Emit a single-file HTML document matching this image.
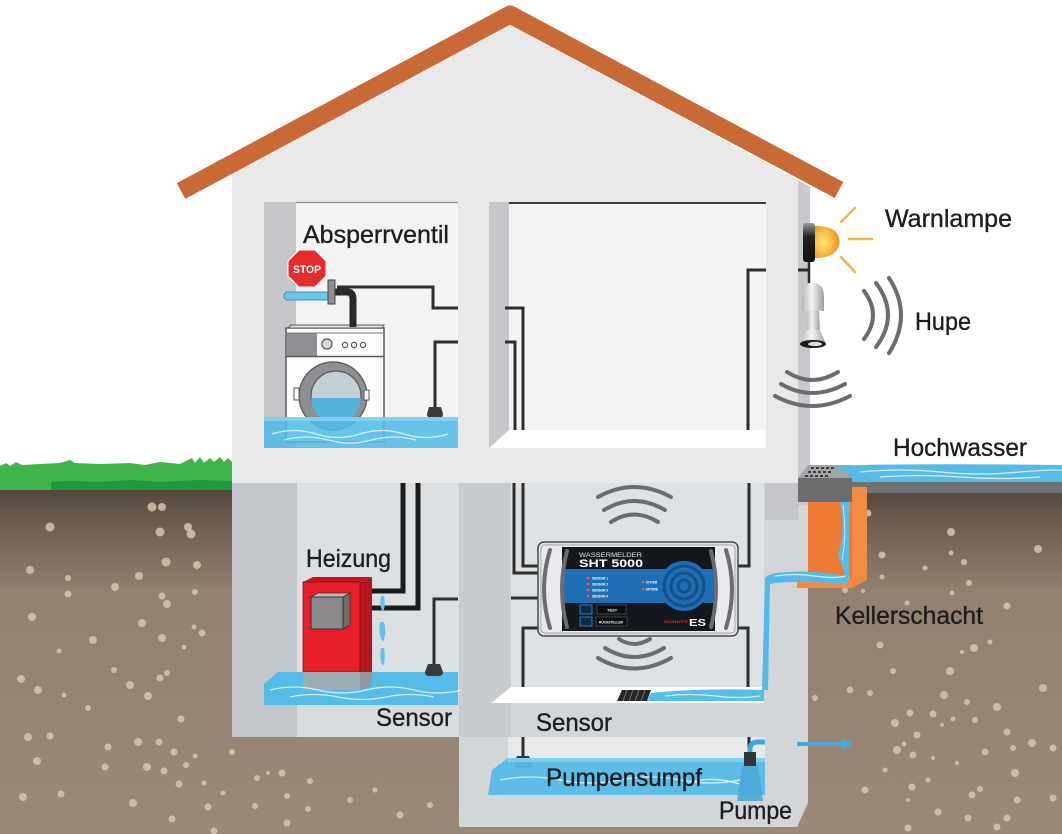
<!DOCTYPE html>
<html><head><meta charset="utf-8">
<style>
html,body{margin:0;padding:0;background:#fff;}
svg{display:block;}
text{font-family:"Liberation Sans",sans-serif;}
.lbl{font-size:25px;fill:#1d1d1d;stroke:#1d1d1d;stroke-width:0.35;}
.w{fill:none;stroke:#2e2e2e;stroke-width:3;}
.arc{fill:none;stroke:#6a6c70;stroke-width:4;stroke-linecap:round;}
.wave{fill:none;stroke:#ffffff;stroke-opacity:0.75;stroke-width:1.3;}
</style></head><body>
<svg width="1062" height="834" viewBox="0 0 1062 834" xmlns="http://www.w3.org/2000/svg">
<defs>
<linearGradient id="soil" x1="0" y1="488" x2="0" y2="834" gradientUnits="userSpaceOnUse">
<stop offset="0" stop-color="#53453b"/>
<stop offset="0.12" stop-color="#716154"/>
<stop offset="0.3" stop-color="#928171"/>
<stop offset="1" stop-color="#9a8979"/>
</linearGradient>
<radialGradient id="lamp" cx="0.35" cy="0.5" r="0.7">
<stop offset="0" stop-color="#ffe680"/>
<stop offset="0.6" stop-color="#f7b23a"/>
<stop offset="1" stop-color="#e9861c"/>
</radialGradient>
<linearGradient id="horn" x1="0" y1="0" x2="1" y2="0">
<stop offset="0" stop-color="#b9b9b9"/>
<stop offset="0.45" stop-color="#f4f4f4"/>
<stop offset="1" stop-color="#9d9d9d"/>
</linearGradient>
<linearGradient id="lampbase" x1="0" y1="0" x2="0" y2="1">
<stop offset="0" stop-color="#9a9a9a"/>
<stop offset="0.35" stop-color="#222"/>
<stop offset="1" stop-color="#111"/>
</linearGradient>
</defs>

<!-- soil -->
<rect x="0" y="488" width="1062" height="346" fill="url(#soil)"/>
<g fill="#d6c6ae" fill-opacity="0.85">
<circle cx="50" cy="527" r="4.5"/><circle cx="152" cy="507" r="4.5"/><circle cx="162" cy="507" r="4"/><circle cx="160" cy="532" r="4.5"/><circle cx="188" cy="527" r="4"/><circle cx="191" cy="534" r="4.5"/><circle cx="30" cy="570" r="4"/><circle cx="166" cy="562" r="4.5"/><circle cx="197" cy="565" r="4"/><circle cx="68" cy="578" r="3"/><circle cx="115" cy="587" r="4"/><circle cx="139" cy="576" r="4"/><circle cx="68" cy="594" r="3.5"/><circle cx="162" cy="596" r="3.5"/><circle cx="167" cy="604" r="4"/><circle cx="195" cy="592" r="3"/><circle cx="32" cy="617" r="4"/><circle cx="142" cy="623" r="4"/><circle cx="93" cy="640" r="4"/><circle cx="162" cy="638" r="4"/><circle cx="202" cy="633" r="3.5"/><circle cx="194" cy="627" r="2.5"/><circle cx="59" cy="651" r="2.5"/><circle cx="184" cy="647" r="2.5"/><circle cx="21" cy="679" r="4"/><circle cx="114" cy="670" r="3"/><circle cx="167" cy="673" r="3"/><circle cx="160" cy="678" r="3.5"/><circle cx="130" cy="685" r="4"/><circle cx="38" cy="690" r="4"/><circle cx="148" cy="696" r="4"/><circle cx="64" cy="695" r="2.5"/><circle cx="88" cy="708" r="3"/><circle cx="181" cy="719" r="3.5"/><circle cx="28" cy="737" r="4"/><circle cx="50" cy="736" r="3.5"/><circle cx="138" cy="742" r="4"/><circle cx="159" cy="742" r="3.5"/><circle cx="108" cy="747" r="3.5"/><circle cx="174" cy="752" r="3.5"/><circle cx="195" cy="756" r="2.5"/><circle cx="232" cy="752" r="3"/><circle cx="37" cy="761" r="4"/><circle cx="105" cy="767" r="3.5"/><circle cx="147" cy="767" r="4"/><circle cx="164" cy="771" r="3.5"/><circle cx="186" cy="765" r="3"/><circle cx="179" cy="784" r="3.5"/><circle cx="204" cy="783" r="2.5"/><circle cx="223" cy="793" r="2.5"/><circle cx="257" cy="778" r="3"/><circle cx="268" cy="773" r="2"/><circle cx="282" cy="773" r="3.5"/><circle cx="310" cy="781" r="3"/><circle cx="287" cy="796" r="3"/><circle cx="23" cy="797" r="4"/><circle cx="61" cy="794" r="3.5"/><circle cx="133" cy="803" r="4"/><circle cx="208" cy="807" r="3.5"/><circle cx="255" cy="806" r="3"/><circle cx="308" cy="809" r="3"/><circle cx="172" cy="819" r="3.5"/><circle cx="287" cy="823" r="3.5"/><circle cx="214" cy="831" r="3.5"/><circle cx="350" cy="800" r="3"/><circle cx="400" cy="815" r="3.5"/><circle cx="375" cy="790" r="2.5"/><circle cx="430" cy="805" r="3"/>
<circle cx="868" cy="513" r="3.5"/><circle cx="951" cy="532" r="4"/><circle cx="1038" cy="549" r="4"/><circle cx="882" cy="555" r="3.5"/><circle cx="951" cy="553" r="2.5"/><circle cx="964" cy="562" r="3"/><circle cx="925" cy="568" r="2.5"/><circle cx="882" cy="577" r="2.5"/><circle cx="969" cy="583" r="3"/><circle cx="952" cy="593" r="2.5"/><circle cx="1007" cy="606" r="3.5"/><circle cx="907" cy="603" r="2.5"/><circle cx="845" cy="590" r="3"/><circle cx="863" cy="591" r="2"/><circle cx="990" cy="642" r="2.5"/><circle cx="962" cy="652" r="2"/><circle cx="974" cy="648" r="4"/><circle cx="880" cy="645" r="3.5"/><circle cx="893" cy="671" r="3"/><circle cx="950" cy="671" r="4"/><circle cx="1043" cy="688" r="4"/><circle cx="850" cy="690" r="3.5"/><circle cx="870" cy="693" r="3"/><circle cx="944" cy="695" r="4"/><circle cx="815" cy="698" r="3"/><circle cx="997" cy="707" r="4"/><circle cx="967" cy="702" r="3"/><circle cx="910" cy="713" r="3.5"/><circle cx="933" cy="714" r="3.5"/><circle cx="895" cy="723" r="4"/><circle cx="953" cy="719" r="2.5"/><circle cx="975" cy="720" r="3"/><circle cx="942" cy="725" r="2"/><circle cx="917" cy="735" r="3.5"/><circle cx="1007" cy="732" r="3.5"/><circle cx="1032" cy="743" r="4"/><circle cx="1053" cy="748" r="3.5"/><circle cx="1013" cy="748" r="3"/><circle cx="897" cy="750" r="4"/><circle cx="913" cy="755" r="3.5"/><circle cx="985" cy="752" r="3.5"/><circle cx="904" cy="744" r="2.5"/><circle cx="933" cy="758" r="2"/><circle cx="957" cy="763" r="2"/><circle cx="1015" cy="773" r="4"/><circle cx="885" cy="770" r="2.5"/><circle cx="865" cy="790" r="3.5"/><circle cx="912" cy="787" r="3.5"/><circle cx="928" cy="780" r="2.5"/><circle cx="980" cy="789" r="3"/><circle cx="972" cy="795" r="3.5"/><circle cx="1017" cy="800" r="3.5"/><circle cx="1053" cy="798" r="3.5"/><circle cx="908" cy="800" r="2"/><circle cx="938" cy="812" r="3.5"/><circle cx="968" cy="818" r="3.5"/><circle cx="1007" cy="818" r="3.5"/><circle cx="908" cy="828" r="3.5"/><circle cx="997" cy="827" r="3.5"/>
</g>

<!-- grass -->
<path d="M0,490 L0,466 L6,463 L10,466 L16,462 L22,465 L40,464 L60,463 L70,460 L75,463 L100,464 L130,463 L145,465 L160,462 L180,464 L192,458 L195,463 L200,457 L204,463 L210,458 L214,462 L220,457 L224,462 L228,458 L232,462 L232,490 Z" fill="#3fb44b"/>
<path d="M51,490 L51,482 L70,481 L100,482 L130,480 L160,482 L200,480 L232,481 L232,490 Z" fill="#1d9a40"/>

<!-- upper house -->
<polygon points="232,174 510,25 798,180 798,485 232,485" fill="#e9e9e9"/>
<polygon points="798,180 810,187 810,466 798,466" fill="#c8c9cc"/>

<!-- upper left room -->
<rect x="264" y="202" width="194" height="246" fill="#f3f3f3"/>
<rect x="264" y="202" width="32" height="246" fill="#c5c7ca"/>
<line x1="296" y1="202.5" x2="458" y2="202.5" stroke="#8a8a8a" stroke-width="1.2"/>
<!-- upper right room -->
<rect x="489" y="202" width="277" height="246" fill="#f4f4f4"/>
<rect x="489" y="202" width="20" height="246" fill="#c5c7ca"/>
<line x1="509" y1="203" x2="766" y2="203" stroke="#3a3a3a" stroke-width="2"/>
<polygon points="509,430 766,430 766,448 489,448" fill="#ffffff"/>

<!-- upper wires -->
<path class="w" d="M337,287 H433 V308 H458"/>
<path class="w" d="M458,342 H435 V407"/>
<path class="w" d="M505,308 H523 V430"/>
<path class="w" d="M505,342 H515 V430"/>
<path class="w" d="M766,270 H748 V430"/>
<path class="w" d="M798,270 H809"/>
<path d="M429,407 L441,407 L443,414 Q443,418 439,418 L431,418 Q427,418 427,414 Z" fill="#3a3a3a"/>

<!-- washing machine -->
<rect x="286" y="328" width="98" height="114" fill="#fcfcfc" stroke="#5a5a5a" stroke-width="1.5"/>
<polygon points="288,328 382,328 384,325 291,325" fill="#e3e3e3" stroke="#5a5a5a" stroke-width="1"/>
<rect x="287" y="333" width="30" height="23" fill="#8e9093"/>
<line x1="286" y1="356.5" x2="384" y2="356.5" stroke="#5a5a5a" stroke-width="1.5"/>
<line x1="286" y1="333" x2="384" y2="333" stroke="#777" stroke-width="1"/>
<circle cx="327" cy="344" r="5" fill="#d9d9d9" stroke="#555" stroke-width="1.2"/>
<circle cx="345" cy="345" r="2.6" fill="#fff" stroke="#555" stroke-width="1.2"/>
<circle cx="354" cy="345" r="2.6" fill="#fff" stroke="#555" stroke-width="1.2"/>
<circle cx="363" cy="345" r="2.6" fill="#fff" stroke="#555" stroke-width="1.2"/>
<circle cx="333" cy="396" r="34" fill="#8d8f92" stroke="#555" stroke-width="1.2"/>
<circle cx="336" cy="396" r="25" fill="#c4ced5" stroke="#555" stroke-width="1.2"/>
<path d="M311,398 A25,25 0 0 0 361,398 Z" fill="#55b2dc"/>
<rect x="294" y="388" width="5" height="12" fill="#fff" stroke="#555" stroke-width="1"/>
<rect x="364" y="390" width="5" height="10" fill="#fff" stroke="#555" stroke-width="1"/>
<!-- pipe, valve, hose -->
<path d="M335,292 H347 Q353,292 353,299 V327" fill="none" stroke="#2a2a2a" stroke-width="7"/>
<rect x="284" y="292" width="46" height="8" rx="4" fill="#6ec5ec" stroke="#3a8ec0" stroke-width="1"/>
<rect x="328" y="280" width="7" height="24" fill="#8d8d8d" stroke="#444" stroke-width="1"/>
<!-- stop -->
<polygon points="299,250 315,250 326,261 326,276 315,287 299,287 288,276 288,261" fill="#e52b2b" stroke="#ffffff" stroke-width="1"/>
<text x="307" y="273" font-size="11" font-weight="bold" fill="#fff" text-anchor="middle" textLength="28" lengthAdjust="spacingAndGlyphs">STOP</text>
<!-- water upper -->
<rect x="264" y="417" width="194" height="31" fill="#52bbe7" fill-opacity="0.88"/>
<rect x="264" y="417" width="194" height="4" fill="#8bd5f2" fill-opacity="0.8"/>
<path class="wave" d="M272,434 q22,-7 44,0 t44,0 t44,0 t44,0"/>
<path class="wave" d="M284,440 q22,-6 44,0 t44,0 t44,0"/>

<!-- basement -->
<rect x="232" y="483" width="227" height="254" fill="#d9dcdf"/>
<rect x="232" y="483" width="65" height="254" fill="#c3c6ca"/>
<rect x="297" y="483" width="161" height="222" fill="#dde0e3"/>
<polygon points="459,483 808,483 808,803 797,827 459,827" fill="#d3d6d9"/>
<rect x="459" y="483" width="52" height="254" fill="#c8cbcf"/>
<rect x="511" y="483" width="253" height="204" fill="#dfe2e5"/>
<rect x="765" y="483" width="33" height="37" fill="#c5c7ca"/>
<rect x="798" y="466" width="12" height="40" fill="#c8c9cc"/>
<polygon points="511,687 764,687 764,703 491,703" fill="#ffffff"/>
<rect x="508" y="737" width="257" height="58" fill="#e7e9eb"/>

<!-- grate, slab, hochwasser -->
<polygon points="808,465 852,465 852,478 798,478" fill="#a3a4a6"/>
<g fill="#3d3e40">
<rect x="811" y="467" width="3" height="2"/><rect x="816" y="467" width="3" height="2"/><rect x="821" y="467" width="3" height="2"/><rect x="826" y="467" width="3" height="2"/><rect x="831" y="467" width="3" height="2"/>
<rect x="808" y="471" width="3" height="2"/><rect x="813" y="471" width="3" height="2"/><rect x="818" y="471" width="3" height="2"/><rect x="823" y="471" width="3" height="2"/><rect x="828" y="471" width="3" height="2"/>
<rect x="805" y="475" width="3" height="2"/><rect x="810" y="475" width="3" height="2"/><rect x="815" y="475" width="3" height="2"/><rect x="820" y="475" width="3" height="2"/><rect x="825" y="475" width="3" height="2"/>
</g>
<rect x="798" y="478" width="54" height="24" fill="#6b6c6e"/>
<rect x="852" y="481" width="210" height="12" fill="#707173"/>
<path d="M836,466 Q900,463 1062,465 L1062,482 L852,482 L852,476 Z" fill="#55bbe6"/>
<path class="wave" d="M860,472 q40,-4 80,0 t80,0 t80,0"/>
<path class="wave" d="M880,477 q40,-3 80,0 t80,0"/>

<!-- kellerschacht -->
<rect x="808" y="502" width="44" height="80" fill="#ee7a34"/>
<polygon points="852,487 867,487 867,578 852,586" fill="#f28c45"/>
<polygon points="797,579 852,579 867,574 867,580 852,588 797,588" fill="#f08a40"/>
<path d="M840,502 Q846,530 838,555 Q844,570 846,580 L850,580 Q848,550 850,502 Z" fill="#56bde8"/>
<path d="M843,505 Q847,535 842,560" fill="none" stroke="#bfe9fb" stroke-width="1"/>
<path d="M848,577 Q820,570 790,572 Q770,572 765,578 L762,690 L768,690 L770,584 Q790,580 848,584 Z" fill="#55bbe6"/>
<path d="M775,576 q20,-3 40,0 t30,0" class="wave"/>

<!-- basement water left -->
<polygon points="264,684 278,672 458,672 458,705 264,705" fill="#55bce7"/>

<!-- heater -->
<polygon points="360,582 372,577 372,685 360,690" fill="#b5151d"/>
<polygon points="303,582 313,577 372,577 360,582" fill="#c8161f"/>
<rect x="303" y="582" width="57" height="90" fill="#e71e27" stroke="#7a1015" stroke-width="0.8"/>
<rect x="303" y="672" width="57" height="18" fill="#a3acb2" fill-opacity="0.9"/>
<polygon points="360,672 372,672 372,685 360,690" fill="#8f999f"/>
<polygon points="311,597 318,593 350,593 343,597" fill="#bdbdbd" stroke="#333" stroke-width="0.8"/>
<polygon points="343,597 350,593 350,625 343,629" fill="#6c6d6f" stroke="#333" stroke-width="0.8"/>
<rect x="311" y="597" width="32" height="32" fill="#8a8b8d" stroke="#333" stroke-width="1"/>
<path d="M372,591 H403 V483" fill="none" stroke="#1b1b1b" stroke-width="5"/>
<path d="M372,608 H418 V483" fill="none" stroke="#1b1b1b" stroke-width="5"/>
<path d="M381,596 Q379,606 383,612 Q386,606 384,596 Z M380,622 Q378,636 383,642 Q387,634 384,622 Z M381,648 Q379,660 383,666 Q386,660 384,648 Z" fill="#62c2ea"/>
<path class="wave" d="M270,690 q24,-6 48,0 t48,0 t48,0 t48,0"/>
<path class="wave" d="M290,697 q24,-5 48,0 t48,0 t48,0"/>
<!-- left basement sensor -->
<path class="w" d="M458,599 H434 V664"/>
<path d="M428,664 L440,664 L443,672 Q443,676 439,676 L429,676 Q425,676 425,672 Z" fill="#3a3a3a"/>

<!-- right basement wires -->
<path class="w" d="M514,483 V573 H539"/>
<path class="w" d="M523,483 V566 H539"/>
<path class="w" d="M511,598 H539"/>
<path class="w" d="M539,628 H523 V687"/>
<path class="w" d="M737,566 H749 V483"/>
<path class="w" d="M737,628 H748 V687"/>

<!-- signal arcs device -->
<path class="arc" d="M598,497 Q634,477 671,497"/>
<path class="arc" d="M604,510 Q634,492 665,510"/>
<path class="arc" d="M611,522 Q634,507 658,522"/>
<path class="arc" d="M619,639 Q634,649 650,639"/>
<path class="arc" d="M605,648 Q634,666 664,648"/>
<path class="arc" d="M598,658 Q634,679 671,658"/>

<!-- device -->
<rect x="538" y="542" width="200" height="94" rx="6" fill="#dfe1e4" stroke="#4a4a4a" stroke-width="1.5"/>
<rect x="541" y="545" width="194" height="88" rx="4" fill="#e9eaec" stroke="#a2a5a9" stroke-width="1"/>
<path class="arc" d="M550,550 Q538,589 550,628" stroke="#8a8d91"/>
<path class="arc" d="M726,550 Q738,589 726,628" stroke="#8a8d91"/>
<rect x="562" y="547" width="153" height="84" fill="#14171d"/>
<rect x="562" y="569" width="153" height="34" fill="#1f6db2"/>
<circle cx="684" cy="586" r="25" fill="#1f6db2"/>
<circle cx="684" cy="586" r="20" fill="none" stroke="#16508a" stroke-width="3"/>
<circle cx="684" cy="586" r="13" fill="none" stroke="#16508a" stroke-width="3"/>
<circle cx="684" cy="586" r="6" fill="none" stroke="#16508a" stroke-width="3"/>
<path class="arc" d="M567,551 Q557,589 567,627" stroke="#8a8d91"/>
<path class="arc" d="M711,551 Q721,589 711,627" stroke="#8a8d91"/>
<text x="579" y="557" font-size="6" fill="#e0e6ee" textLength="63" lengthAdjust="spacingAndGlyphs">WASSERMELDER</text>
<text x="579" y="567" font-size="11" font-weight="bold" fill="#fff" textLength="64" lengthAdjust="spacingAndGlyphs">SHT 5000</text>
<g fill="#ff5a2a"><circle cx="588" cy="578" r="1.3"/><circle cx="588" cy="584" r="1.3"/><circle cx="588" cy="590" r="1.3"/><circle cx="588" cy="596" r="1.3"/><circle cx="643" cy="582" r="1.3"/><circle cx="643" cy="589" r="1.3"/></g>
<g font-size="3.5" fill="#fff" font-weight="bold">
<text x="592" y="579.5" textLength="16" lengthAdjust="spacingAndGlyphs">SENSOR 1</text>
<text x="592" y="585.5" textLength="16" lengthAdjust="spacingAndGlyphs">SENSOR 2</text>
<text x="592" y="591.5" textLength="16" lengthAdjust="spacingAndGlyphs">SENSOR 3</text>
<text x="592" y="597.5" textLength="16" lengthAdjust="spacingAndGlyphs">SENSOR 4</text>
<text x="646" y="583.5" textLength="11" lengthAdjust="spacingAndGlyphs">SYSTEM</text>
<text x="646" y="590.5" textLength="12" lengthAdjust="spacingAndGlyphs">BATTERIE</text>
</g>
<rect x="597" y="605" width="29" height="9" fill="#0c0d10" stroke="#4a4f58" stroke-width="0.8"/>
<rect x="596" y="617" width="31" height="9" fill="#0c0d10" stroke="#4a4f58" stroke-width="0.8"/>
<text x="607" y="611.5" font-size="4" font-weight="bold" fill="#fff">TEST</text>
<text x="599" y="623.5" font-size="3.5" font-weight="bold" fill="#fff" textLength="24" lengthAdjust="spacingAndGlyphs">RÜCKSTELLEN</text>
<rect x="580" y="605" width="12" height="9" fill="#0d2a4a" stroke="#2d7dc4" stroke-width="1"/>
<rect x="580" y="617" width="12" height="9" fill="#0d2a4a" stroke="#2d7dc4" stroke-width="1"/>
<text x="664" y="623" font-size="4" font-weight="bold" fill="#e03030" textLength="24" lengthAdjust="spacingAndGlyphs">SCHUTZ</text>
<text x="689" y="626" font-size="10" font-weight="bold" fill="#fff" textLength="17" lengthAdjust="spacingAndGlyphs">ES</text>

<!-- right room floor water & drain -->
<polygon points="622,690 651,690 647,701 617,701" fill="#262626"/>
<g stroke="#777" stroke-width="1"><line x1="627" y1="690" x2="623" y2="701"/><line x1="633" y1="690" x2="629" y2="701"/><line x1="639" y1="690" x2="635" y2="701"/><line x1="645" y1="690" x2="641" y2="701"/></g>
<path d="M651,693 Q700,688 764,690 L764,701 L647,701 Z" fill="#58bde7"/>
<path class="wave" d="M665,696 q25,-3 50,0 t45,0"/>

<!-- sump -->
<path class="w" d="M523,737 V756"/>
<path d="M517,756 L529,756 L532,764 Q532,768 528,768 L518,768 Q514,768 514,764 Z" fill="#3a3a3a"/>
<path class="w" d="M749,737 V754"/>
<polygon points="492,770 508,758 765,758 765,795 488,795" fill="#55bbe6" fill-opacity="0.95"/>
<rect x="508" y="758" width="257" height="4" fill="#86d2f1" fill-opacity="0.8"/>
<path class="wave" d="M500,780 q30,-6 60,0 t60,0 t60,0 t60,0"/>
<path class="wave" d="M690,782 q25,-6 50,2"/>
<!-- pump -->
<rect x="744" y="752" width="12" height="14" fill="#333"/>
<path d="M750,752 V749 Q750,742 758,742 H765" fill="none" stroke="#3fa6d8" stroke-width="5"/>
<path d="M742,766 L758,766 L763,801 L737,801 Z" fill="#4aa8d8" fill-opacity="0.9"/>
<!-- outflow arrow -->
<path d="M797,744 H843" stroke="#48a9dc" stroke-width="4"/>
<path d="M841,738 L853,744 L841,750 Z" fill="#48a9dc"/>

<!-- roof -->
<polyline points="181,191 510,14.5 839,190" fill="none" stroke="#c96a36" stroke-width="18" stroke-linejoin="round"/>

<!-- warnlampe -->
<path d="M815,226 Q830,226 836,232 Q843,241 836,251 Q830,258 815,258 Z" fill="url(#lamp)"/>
<rect x="803" y="223" width="12" height="39" rx="3" fill="url(#lampbase)"/>
<g stroke="#f5b341" stroke-width="2.5" stroke-linecap="round">
<line x1="841" y1="222" x2="855" y2="208"/>
<line x1="849" y1="239" x2="872" y2="239"/>
<line x1="841" y1="257" x2="855" y2="272"/>
</g>
<line x1="809" y1="262" x2="809" y2="283" stroke="#2e2e2e" stroke-width="2.5"/>
<!-- horn -->
<path d="M802,298 Q802,283 813,283 Q824,283 824,298 L824,311 L802,311 Z" fill="url(#horn)"/>
<path d="M807,311 L819,311 L820,330 L806,330 Z" fill="url(#horn)"/>
<path d="M806,330 L820,330 L826,344 L800,344 Z" fill="url(#horn)"/>
<ellipse cx="813" cy="344" rx="13" ry="4" fill="#1a1a1a"/>
<ellipse cx="815" cy="344" rx="7" ry="2.2" fill="#dcdcdc"/>
<!-- hupe arcs -->
<path class="arc" d="M864,291 Q882,315 864,339"/>
<path class="arc" d="M876,283 Q900,315 876,347"/>
<path class="arc" d="M889,278 Q913,315 889,353"/>
<path class="arc" d="M787,372 Q812,388 838,372"/>
<path class="arc" d="M781,384 Q812,402 845,384"/>
<path class="arc" d="M775,396 Q812,416 850,396"/>

<!-- labels -->
<text class="lbl" x="303" y="243" textLength="146" lengthAdjust="spacingAndGlyphs">Absperrventil</text>
<text class="lbl" x="885" y="227" textLength="127" lengthAdjust="spacingAndGlyphs">Warnlampe</text>
<text class="lbl" x="915" y="330" textLength="56" lengthAdjust="spacingAndGlyphs">Hupe</text>
<text class="lbl" x="893" y="456" textLength="134" lengthAdjust="spacingAndGlyphs">Hochwasser</text>
<text class="lbl" x="306" y="567" textLength="85" lengthAdjust="spacingAndGlyphs">Heizung</text>
<text class="lbl" x="835" y="624" textLength="148" lengthAdjust="spacingAndGlyphs">Kellerschacht</text>
<text class="lbl" x="376" y="726" textLength="76" lengthAdjust="spacingAndGlyphs">Sensor</text>
<text class="lbl" x="536" y="731" textLength="76" lengthAdjust="spacingAndGlyphs">Sensor</text>
<text class="lbl" x="546" y="786" textLength="156" lengthAdjust="spacingAndGlyphs">Pumpensumpf</text>
<text class="lbl" x="719" y="819" textLength="73" lengthAdjust="spacingAndGlyphs">Pumpe</text>
</svg>
</body></html>
